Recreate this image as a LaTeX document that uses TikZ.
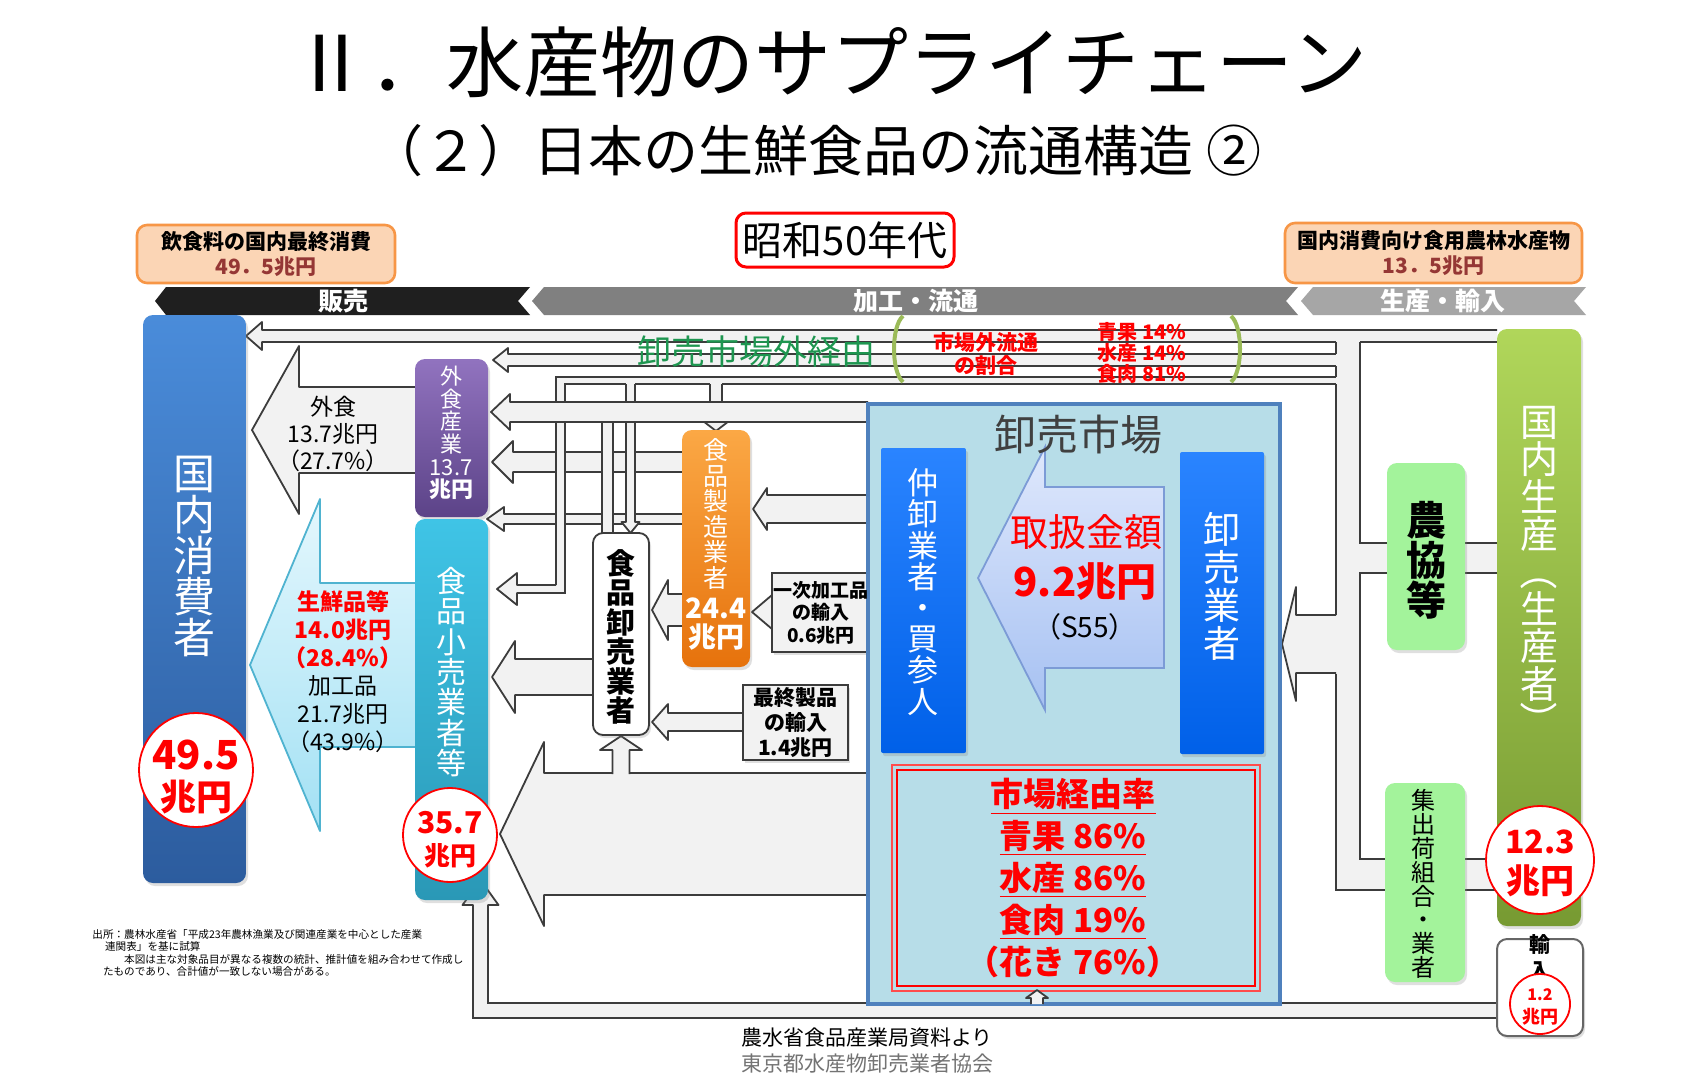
\documentclass[tikz,border=0pt]{standalone}
\usepackage{fontspec}
\setmainfont{Noto Sans CJK JP}
\usetikzlibrary{fit,shadows}

\definecolor{arrfill}{HTML}{F2F2F2}
\definecolor{arredge}{HTML}{3C3C3C}
\definecolor{hdrfill}{HTML}{FBD5B5}
\definecolor{hdredge}{HTML}{F79646}
\definecolor{hdrnum}{HTML}{953735}
\definecolor{consA}{HTML}{4A8CDA}
\definecolor{consB}{HTML}{2C5C9E}
\definecolor{extA}{HTML}{9173BF}
\definecolor{extB}{HTML}{5C4388}
\definecolor{retA}{HTML}{3FC4E6}
\definecolor{retB}{HTML}{2A98B6}
\definecolor{mfrA}{HTML}{FBA845}
\definecolor{mfrB}{HTML}{E6720C}
\definecolor{mktfill}{HTML}{B7DDE8}
\definecolor{mktedge}{HTML}{4F81BD}
\definecolor{wsA}{HTML}{2A84FF}
\definecolor{wsB}{HTML}{0060E8}
\definecolor{mkarrA}{HTML}{DFE8FC}
\definecolor{mkarrB}{HTML}{A6C1F2}
\definecolor{mkarrln}{HTML}{7C9BD6}
\definecolor{frshA}{HTML}{E4F7FD}
\definecolor{frshB}{HTML}{A3E1F4}
\definecolor{frshln}{HTML}{4FB3D0}
\definecolor{prodA}{HTML}{B0D65A}
\definecolor{prodB}{HTML}{779A32}
\definecolor{lgreen}{HTML}{A3F39B}
\definecolor{outgreen}{HTML}{1E9650}
\definecolor{brgreen}{HTML}{9BBB59}

\newcommand\fs[2]{\fontsize{#1}{#2}\selectfont}
\newcommand\vparen[1]{\rotatebox[origin=c]{-90}{#1}}
% block arrow to the left: [fill] tip x, y, head x, head half, shaft half, tail x
\newcommand\larr[7][]{%
  \fill[arrfill,#1] (#2,#3) -- (#4,#3-#5) -- (#4,#3-#6) -- (#7,#3-#6)
    -- (#7,#3+#6) -- (#4,#3+#6) -- (#4,#3+#5) -- cycle;
  \draw[arrline] (#7,#3-#6) -- (#4,#3-#6) -- (#4,#3-#5) -- (#2,#3)
    -- (#4,#3+#5) -- (#4,#3+#6) -- (#7,#3+#6);}
% block arrow up/down: x, tip y, head y, head half, shaft half, tail y
\newcommand\varr[6]{%
  \fill[arrfill] (#1,#2) -- (#1-#4,#3) -- (#1-#5,#3) -- (#1-#5,#6)
    -- (#1+#5,#6) -- (#1+#5,#3) -- (#1+#4,#3) -- cycle;
  \draw[arrline] (#1-#5,#6) -- (#1-#5,#3) -- (#1-#4,#3) -- (#1,#2)
    -- (#1+#4,#3) -- (#1+#5,#3) -- (#1+#5,#6);}

\begin{document}
\begin{tikzpicture}[x=0.5pt,y=-0.5pt,
  arrline/.style={draw=arredge,line width=0.9pt,line join=round},
  wire/.style={draw=arredge,line width=0.9pt},
  shd/.style={drop shadow={opacity=0.25,shadow xshift=1pt,shadow yshift=-1.5pt}},
  col/.style={rounded corners=5pt,inner sep=0pt,shd},
  hdr/.style={draw=hdredge,line width=1.3pt,fill=hdrfill,rounded corners=5pt,inner sep=0pt},
  vt/.style={align=center,inner sep=0pt,text=white},
  ring/.style={circle,draw=red,line width=0.9pt,fill=white,inner sep=0pt},
  rnum/.style={text=red,inner sep=0pt},
  band/.style={text=white,font=\fs{12.5}{14}\bfseries}]
\useasboundingbox (0,0) rectangle (1689,1081);
\fill[white] (0,0) rectangle (1689,1081);

\node[font=\fs{38.5}{42}] (ttl) at (830,62) {Ⅱ．水産物のサプライチェーン};
\node[font=\fs{27.5}{30}] (sub) at (815,151) {（２）日本の生鮮食品の流通構造 ②};

% headers
\node[hdr,fit={(137,225)(395,283)}] (hdsell) {};
\node[font=\fs{10.5}{12.5}\bfseries,align=center] at (hdsell.center) {飲食料の国内最終消費\\\textcolor{hdrnum}{49．5兆円}};
\node[hdr,fit={(1285,223)(1582,283)}] (hdprod) {};
\node[font=\fs{10.5}{12.5}\bfseries,align=center] at (hdprod.center) {国内消費向け食用農林水産物\\\textcolor{hdrnum}{13．5兆円}};
\node[draw=red,line width=1.5pt,rounded corners=5pt,fill=white,inner sep=0pt,fit={(736,213)(954,267)}] (era) {};
\node[font=\fs{20}{22}] at (era.center) {昭和50年代};

\fill[black!88] (155,301) -- (166,287) -- (530,287) -- (518,301) -- (530,315) -- (166,315) -- cycle;
\fill[black!50] (532,301) -- (544,287) -- (1298,287) -- (1286,301) -- (1298,315) -- (544,315) -- cycle;
\fill[black!35] (1301,301) -- (1313,287) -- (1586,287) -- (1574,301) -- (1586,315) -- (1313,315) -- cycle;
\node[band] (bsell) at (343,301) {販売};
\node[band] (bproc) at (916,301) {加工・流通};
\node[band] (bprod) at (1443,301) {生産・輸入};

% bottom return band
\varr{480.5}{880}{905}{18}{7.5}{1010}
\fill[arrfill] (473,1003) rectangle (1497,1018);
\draw[wire] (473,1000) -- (473,1018) -- (1497,1018);
\draw[wire] (488,1000) -- (488,1003) -- (1030,1003) (1044,1003) -- (1497,1003);

% flows out of the market
\larr{246}{336}{262}{14}{6}{1497}
\larr{493}{360}{508}{12}{6}{1336}
\larr{492}{462}{513}{21}{10}{682}
\larr{487}{519}{504}{12}{5}{682}
\varr{630.5}{533}{522}{9}{4.5}{384}
\varr{716}{431}{421}{13}{6}{384}
\fill[arrfill] (556,377) rectangle (1336,384);
\fill[arrfill] (556,377) rectangle (565,593);
\larr{497}{589}{517}{16}{4}{556}
\draw[wire] (556,585) -- (556,377) -- (1336,377);
\draw[wire] (556,593) -- (565,593) -- (565,384) -- (626,384) (635,384) -- (710,384) (722,384) -- (1336,384);
\fill[arrfill] (602,420) rectangle (613,533);
\draw[wire] (602,422) -- (602,533) (613,422) -- (613,533);
\larr{491}{412}{510}{18}{10}{868}
\larr{492}{677}{515}{36}{18}{593}
\larr{652}{610}{668}{30}{16}{682}
\larr{753}{509}{767}{21}{14}{868}
\larr{752}{612}{772}{17}{8}{772}
\larr{652}{722}{668}{18}{9}{743}
\larr{500}{834}{544}{92}{61}{868}
\varr{621}{736}{750}{21}{8.5}{774}

% to the consumers
\larr{252}{430}{299}{84}{43}{415}
\begin{scope}[arrline/.style={draw=frshln,line width=0.9pt,line join=round}]
\larr[top color=frshA,bottom color=frshB]{250}{665}{320}{166}{82}{415}
\end{scope}

% production side
\fill[arrfill] (1336,341) rectangle (1360,890);
\fill[arrfill] (1360,543) rectangle (1497,573);
\fill[arrfill] (1336,859) rectangle (1497,890);
\larr{1282}{644}{1296}{57}{29}{1336}
\draw[wire] (1336,342) -- (1336,354) (1336,366) -- (1336,377) (1336,384) -- (1336,615) (1336,674) -- (1336,890) -- (1385,890);
\draw[wire] (1360,342) -- (1360,543) -- (1387,543) (1387,573) -- (1360,573) -- (1360,859) -- (1385,859);
\draw[wire] (1465,543) -- (1497,543) (1465,573) -- (1497,573) (1465,859) -- (1497,859) (1465,890) -- (1497,890);

% boxes
\node[col,top color=consA,bottom color=consB,fit={(143,315)(246,883)}] (cons) {};
\node[col,top color=extA,bottom color=extB,fit={(415,359)(488,517)}] (ext) {};
\node[col,top color=retA,bottom color=retB,fit={(415,519)(488,900)}] (ret) {};
\node[col,fill=white,draw=arredge,line width=0.9pt,fit={(593,533)(649,735)}] (wsl) {};
\node[col,top color=mfrA,bottom color=mfrB,fit={(682,430)(750,667)}] (mfr) {};
\node[inner sep=0pt,fill=arrfill,draw=arredge,line width=0.9pt,shd,fit={(772,573)(870,652)}] (imp1) {};
\node[inner sep=0pt,fill=arrfill,draw=arredge,line width=0.9pt,shd,fit={(743,685)(848,760)}] (imp2) {};
\node[inner sep=0pt,fill=mktfill,draw=mktedge,line width=1.8pt,fit={(868,404)(1280,1004)}] (mkt) {};
\node[col,rounded corners=1pt,top color=wsA,bottom color=wsB,fit={(881,448)(966,753)}] (brk) {};
\node[col,rounded corners=1pt,top color=wsA,bottom color=wsB,fit={(1180,452)(1264,754)}] (whs) {};
\node[inner sep=0pt,draw=red!70,line width=1.4pt,fit={(892,765)(1260,991)}] (rate) {};
\draw[red,line width=0.8pt] (897,770) rectangle (1255,986);
\node[col,top color=prodA,bottom color=prodB,fit={(1497,329)(1581,926)}] (prod) {};
\node[col,fill=lgreen,fit={(1387,463)(1465,650)}] (coop) {};
\node[col,fill=lgreen,fit={(1385,783)(1465,982)}] (ship) {};
\node[col,fill=white,draw=black!60,line width=1pt,fit={(1497,939)(1583,1036)}] (impt) {};
\varr{1037}{990}{998}{11}{6}{1004}

\filldraw[draw=mkarrln,line width=0.9pt,top color=mkarrA,bottom color=mkarrB] (978,578) -- (1045,447) -- (1045,487) -- (1164,487) -- (1164,668) -- (1045,668) -- (1045,710) -- cycle;

% texts
\node[vt,font=\fs{21}{20.5}] at (194,556) {国\\内\\消\\費\\者};
\node[vt,font=\fs{11}{11.3}] at (451,433) {外\\食\\産\\業\\13.7\\\textbf{兆円}};
\node[vt,font=\fs{15}{15.2}] at (451,672) {食\\品\\小\\売\\業\\者\\等};
\node[vt,text=black,font=\fs{14.5}{14.7}\bfseries] at (621,637) {食\\品\\卸\\売\\業\\者};
\node[vt,font=\fs{12.5}{12.8}] at (716,514) {食\\品\\製\\造\\業\\者};
\node[vt,font=\fs{14}{15}\bfseries] at (716,608) {24.4};
\node[vt,font=\fs{14}{15}\bfseries] at (716,637) {兆円};
\node[font=\fs{9.5}{11.2}\bfseries,align=center] at (imp1.center) {一次加工品\\の輸入\\0.6兆円};
\node[font=\fs{10.5}{12.5}\bfseries,align=center] at (imp2.center) {最終製品\\の輸入\\1.4兆円};
\node[text=black!75,font=\fs{21}{22}] at (1078,435) {卸売市場};
\node[vt,font=\fs{15.5}{15.6}] at (923,592) {仲\\卸\\業\\者\\・\\買\\参\\人};
\node[vt,font=\fs{18.5}{19}] at (1222,586) {卸\\売\\業\\者};
\node[text=red,font=\fs{19}{20}] at (1086,532) {取扱金額};
\node[text=red,font=\fs{20}{22}\bfseries] at (1085,582) {9.2兆円};
\node[font=\fs{14}{15}] at (1085,627) {（S55）};
\node[text=red,font=\fs{16.5}{20.9}\bfseries,align=center] at (1073,878) {\underline{市場経由率}\\\underline{青果 86\%}\\\underline{水産 86\%}\\\underline{食肉 19\%}\\（花き 76\%）};
\node[vt,font=\fs{19}{18.7}] at (1539,573) {国\\内\\生\\産\\\vparen{（}\\生\\産\\者\\\vparen{）}};
\node[vt,text=black,font=\fs{20}{20}\bfseries] at (1426,560) {農\\協\\等};
\node[vt,text=black,font=\fs{12}{11.9}] at (1423,884) {集\\出\\荷\\組\\合\\・\\業\\者};
\node[font=\fs{10.5}{13}\bfseries,align=center] at (1540,957) {輸\\入};

\node[align=center,font=\fs{11.5}{13.7}] at (333,434) {外食\\13.7兆円\\（27.7\%）};
\node[align=center,font=\fs{11.5}{14}] at (343,672) {\textcolor{red}{\bfseries 生鮮品等}\\\textcolor{red}{\bfseries 14.0兆円}\\\textcolor{red}{\bfseries （28.4\%）}\\加工品\\21.7兆円\\（43.9\%）};

\node[text=outgreen,font=\fs{17}{18}] at (756,352) {卸売市場外経由};
\node[text=red,font=\fs{10.5}{11.5}\bfseries,align=center] at (986,354) {市場外流通\\の割合};
\node[text=red,font=\fs{10}{9.5}\bfseries,align=center] at (1142,353) {青果 14\%\\水産 14\%\\食肉 81\%};
\draw[brgreen,line width=2pt] (903,316) .. controls (891,326) and (891,372) .. (903,382);
\draw[brgreen,line width=2pt] (1231,316) .. controls (1243,326) and (1243,372) .. (1231,382);

% totals
\node[ring,minimum size=57pt] (c495) at (196,770) {};
\node[rnum,font=\fs{20}{21}\bfseries] at (196,755) {49.5};
\node[rnum,font=\fs{18}{20}\bfseries] at (196,797) {兆円};
\node[ring,minimum size=47pt] (c357) at (450,835) {};
\node[rnum,font=\fs{15}{16}\bfseries] at (450,823) {35.7};
\node[rnum,font=\fs{13}{14}\bfseries] at (450,856) {兆円};
\node[ring,minimum size=54pt] (c123) at (1540,860) {};
\node[rnum,font=\fs{16}{17}\bfseries] at (1540,842) {12.3};
\node[rnum,font=\fs{17}{18}\bfseries] at (1540,881) {兆円};
\node[ring,minimum size=30pt] (c12) at (1540,1004) {};
\node[rnum,font=\fs{8}{9}\bfseries] at (1540,995) {1.2};
\node[rnum,font=\fs{9}{10}\bfseries] at (1540,1017) {兆円};

\node[font=\fs{10.5}{12}] (src) at (867,1038) {農水省食品産業局資料より};
\node[text=black!55,font=\fs{10.5}{12}] (org) at (867,1063) {東京都水産物卸売業者協会};
\node[anchor=north west,inner sep=0pt,font=\fs{5.3}{6.2},align=left] (note) at (92,929) {出所：農林水産省「平成23年農林漁業及び関連産業を中心とした産業\\\hspace{1.2em}連関表」を基に試算\\\hspace{3em}本図は主な対象品目が異なる複数の統計、推計値を組み合わせて作成し\\\hspace{1em}たものであり、合計値が一致しない場合がある。};
\end{tikzpicture}
\end{document}
